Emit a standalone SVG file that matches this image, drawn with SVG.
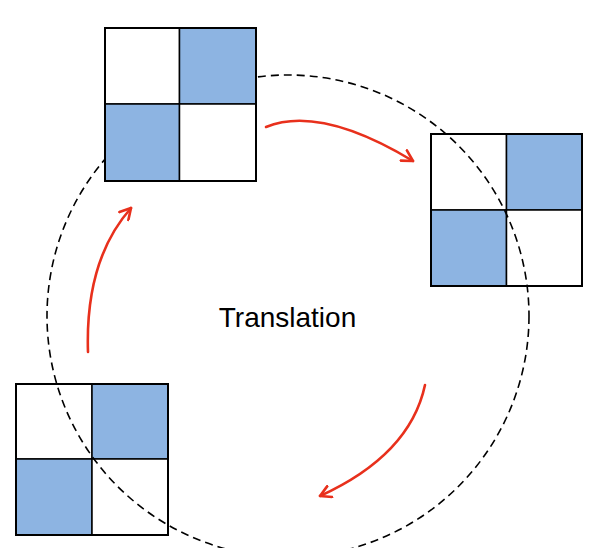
<svg xmlns="http://www.w3.org/2000/svg" width="597" height="548" viewBox="0 0 597 548">
<style>
.w{fill:#ffffff;stroke:#000000;stroke-width:1.5}
.b{fill:#8db4e2;stroke:#000000;stroke-width:1.5}
.frame{fill:none;stroke:#000000;stroke-width:2}
.arc{fill:none;stroke:#e8301c;stroke-width:2.6;stroke-linecap:round}
.ring{fill:none;stroke:#000000;stroke-width:1.6;stroke-dasharray:8 5}
</style>
<defs>
<marker id="ah" viewBox="0 0 12 12" refX="10" refY="6" markerWidth="5.5" markerHeight="5.5" orient="auto" markerUnits="strokeWidth">
<path d="M1,1 L10,6 L1,11" fill="none" stroke="#e8301c" stroke-width="2.2" stroke-linecap="round" stroke-linejoin="round"/>
</marker>
</defs>
<rect width="597" height="548" fill="#ffffff"/>
<g id="square-right">
<rect class="w" x="431" y="134" width="75.5" height="76"/>
<rect class="b" x="506.5" y="134" width="75.5" height="76"/>
<rect class="b" x="431" y="210" width="75.5" height="76"/>
<rect class="w" x="506.5" y="210" width="75.5" height="76"/>
<rect class="frame" x="431" y="134" width="151" height="152"/>
</g>
<g id="square-bottom-left">
<rect class="w" x="16" y="384" width="76" height="75"/>
<rect class="b" x="92" y="384" width="76" height="75"/>
<rect class="b" x="16" y="459" width="76" height="76"/>
<rect class="w" x="92" y="459" width="76" height="76"/>
<rect class="frame" x="16" y="384" width="152" height="151"/>
</g>
<g id="connectors">
<circle class="ring" cx="288" cy="316" r="241"/>
<path class="arc" d="M266,127 Q320,105 413,161" marker-end="url(#ah)"/>
<path class="arc" d="M425,385 Q410,455 320,496" marker-end="url(#ah)"/>
<path class="arc" d="M88,352 Q85,260 131,208" marker-end="url(#ah)"/>
</g>
<g id="square-top">
<rect class="w" x="105" y="28" width="74.5" height="76"/>
<rect class="b" x="179.5" y="28" width="76.5" height="76"/>
<rect class="b" x="105" y="104" width="74.5" height="77"/>
<rect class="w" x="179.5" y="104" width="76.5" height="77"/>
<rect class="frame" x="105" y="28" width="151" height="153"/>
</g>
<g id="label">
<text x="287.5" y="327" font-family="Liberation Sans, Arial, sans-serif" font-size="28" text-anchor="middle" fill="#000000">Translation</text>
</g>
</svg>
